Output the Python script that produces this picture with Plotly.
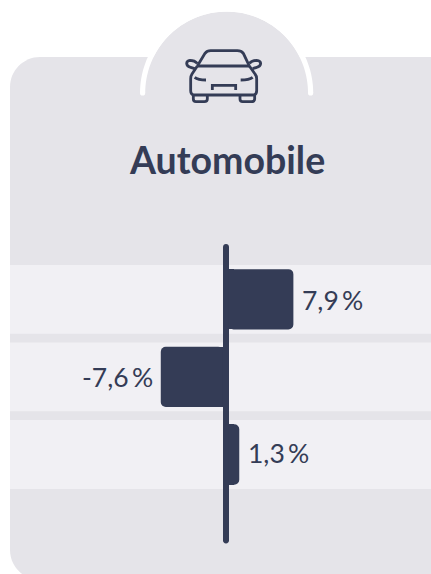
import re
import numpy as np
import plotly.graph_objects as go

title = "Automobile"
categories = ["Ligne 1", "Ligne 2", "Ligne 3"]
values = [7.9, -7.6, 1.3]
labels = ["7,9\u2009%", "-7,6\u2009%", "1,3\u2009%"]

W, H = 431, 574
INK = "#343c56"
CARD = "#e5e4e9"
BAND = "#f1f0f4"

PX_PER_UNIT = 8.2
ZERO_PX = 225.85
ROW_PX = 77.6
ROW0_PX = 299.3
AXIS_HALF = 2.75 / PX_PER_UNIT   # bars start at the edges of the central rule
BAR_PX = 60.3
LABEL_YSHIFT = [-1, 0, 2]


def fx(x):
    return x / W


def fy(y):
    return 1 - y / H


def path(d):
    """Convert an absolute M/L/Q/C/Z path in page pixels to paper coordinates."""
    out, is_x = [], True
    for tok in re.findall(r"[MLQCZ]|-?\d+\.?\d*", d):
        if tok in "MLQCZ":
            out.append(tok)
            is_x = True
        else:
            v = float(tok)
            out.append(f"{fx(v) if is_x else fy(v):.5f}")
            is_x = not is_x
    return " ".join(out)


def pshape(d, fill=None, line=None, width=0, layer="below"):
    return dict(type="path", xref="paper", yref="paper", layer=layer, path=path(d),
                fillcolor=fill or "rgba(0,0,0,0)",
                line=dict(color=line or "rgba(0,0,0,0)", width=width))


def circle(cx, cy, r, fill):
    return dict(type="circle", xref="paper", yref="paper", layer="below",
                x0=fx(cx - r), x1=fx(cx + r), y0=fy(cy + r), y1=fy(cy - r),
                fillcolor=fill, line=dict(width=0))


def rrect(x0, y0, x1, y1, r, fill, layer="below"):
    k = r * 0.45
    return pshape(
        f"M {x0+r} {y0} L {x1-r} {y0} C {x1-k} {y0} {x1} {y0+k} {x1} {y0+r} "
        f"L {x1} {y1-r} C {x1} {y1-k} {x1-k} {y1} {x1-r} {y1} "
        f"L {x0+r} {y1} C {x0+k} {y1} {x0} {y1-k} {x0} {y1-r} "
        f"L {x0} {y0+r} C {x0} {y0+k} {x0+k} {y0} {x0+r} {y0} Z", fill=fill, layer=layer)


shapes = []
# Card and dome
shapes.append(rrect(10, 57, 476, 580, 30, CARD))
DX, DY = 226.6, 93
shapes.append(circle(DX, DY, 81.5, CARD))
ang = np.linspace(np.pi, 2 * np.pi, 73)
arc = "M " + " L ".join(f"{DX + 84 * np.cos(a):.2f} {DY + 84 * np.sin(a):.2f}" for a in ang)
shapes.append(pshape(arc, line="#ffffff", width=5.2))
shapes.append(circle(DX - 84, DY, 2.6, "#ffffff"))
shapes.append(circle(DX + 84, DY, 2.6, "#ffffff"))

# Row bands
for i in range(len(categories)):
    c = ROW0_PX + i * ROW_PX
    shapes.append(dict(type="rect", xref="paper", yref="paper", layer="below",
                       x0=fx(10), x1=1, y0=fy(c + 34.4), y1=fy(c - 34.4),
                       fillcolor=BAND, line=dict(width=0)))

# Square roots of the bars: only the far corners are rounded in the reference
for i, v in enumerate(values):
    c = ROW0_PX + i * ROW_PX
    top, bot = round(c - BAR_PX / 2), round(c + BAR_PX / 2)
    x0, x1 = (225, 234) if v > 0 else (217, 226)
    shapes.append(dict(type="rect", xref="paper", yref="paper", layer="above",
                       x0=fx(x0), x1=fx(x1), y0=fy(bot), y1=fy(top),
                       fillcolor=INK, line=dict(width=0)))

# Central rule with rounded ends
shapes.append(rrect(223, 244, 229, 543.5, 2.9, INK, layer="above"))

# Car icon, drawn in a 3x grid anchored at (120, 0)
car = [
    "M 232 198 L 255 160 Q 261 152 272 152 L 352 152 Q 364 152 370 160 L 388 198",
    "M 232 198 L 388 198",
    "M 232 198 L 216 222 Q 212 228 212 236 L 212 272 Q 212 285 225 285 L 397 285 "
    "Q 410 285 410 272 L 410 236 Q 410 228 405 222 L 388 198",
    "M 232 190 Q 224 181 210 181 Q 200 182 200 191 Q 201 200 212 202 L 224 206",
    "M 388 190 Q 396 181 410 181 Q 422 182 422 191 Q 421 200 410 202 L 398 206",
    "M 224 232 Q 234 240 258 240",
    "M 398 232 Q 388 240 362 240",
    "M 277 270 L 277 256 L 347 256 L 347 270",
    "M 220 285 L 220 297 Q 220 305 228 305 L 253 305 Q 262 305 262 297 L 262 285",
    "M 360 285 L 360 297 Q 360 305 368 305 L 394 305 Q 404 305 404 297 L 404 285",
]


def grid(d):
    toks = re.findall(r"[MLQCZ]|-?\d+\.?\d*", d)
    out, is_x = [], True
    for t in toks:
        if t in "MLQCZ":
            out.append(t)
            is_x = True
        else:
            v = float(t)
            out.append(f"{120 + v / 3 if is_x else v / 3:.2f}")
            is_x = not is_x
    return " ".join(out)


for seg in car:
    shapes.append(pshape(grid(seg), line=INK, width=2.8))

fig = go.Figure()
bases = [AXIS_HALF if v > 0 else -AXIS_HALF for v in values]
fig.add_trace(go.Bar(
    y=categories, x=values, base=bases, orientation="h",
    width=BAR_PX / ROW_PX, marker=dict(color=INK, line=dict(width=0), cornerradius=5),
    hoverinfo="skip", showlegend=False,
))

annotations = [dict(
    x=0.5, xref="paper", y=fy(160), yref="paper", xanchor="center", yanchor="middle",
    xshift=11.5, text=f"<b>{title}</b>", showarrow=False,
    font=dict(family="Lato", size=37.5, color=INK),
)]
for cat, v, b, lab, ys in zip(categories, values, bases, labels, LABEL_YSHIFT):
    annotations.append(dict(
        x=v + b, y=cat, xref="x", yref="y", text=lab, showarrow=False,
        xanchor="left" if v > 0 else "right", yanchor="middle",
        xshift=7 if v > 0 else -6, yshift=ys,
        font=dict(family="Lato", size=26.5, color=INK),
    ))

fig.update_layout(
    width=W, height=H, autosize=False,
    margin=dict(l=0, r=0, t=0, b=0, pad=0),
    paper_bgcolor="#ffffff", plot_bgcolor="rgba(0,0,0,0)",
    shapes=shapes, annotations=annotations,
    xaxis=dict(visible=False, range=[-ZERO_PX / PX_PER_UNIT, (W - ZERO_PX) / PX_PER_UNIT]),
    yaxis=dict(visible=False, type="category", categoryorder="array",
               categoryarray=categories,
               range=[(H - ROW0_PX) / ROW_PX, -ROW0_PX / ROW_PX]),
)

fig.write_html("out.html", config={"displayModeBar": False},
               post_script="document.body.style.margin='0';")
